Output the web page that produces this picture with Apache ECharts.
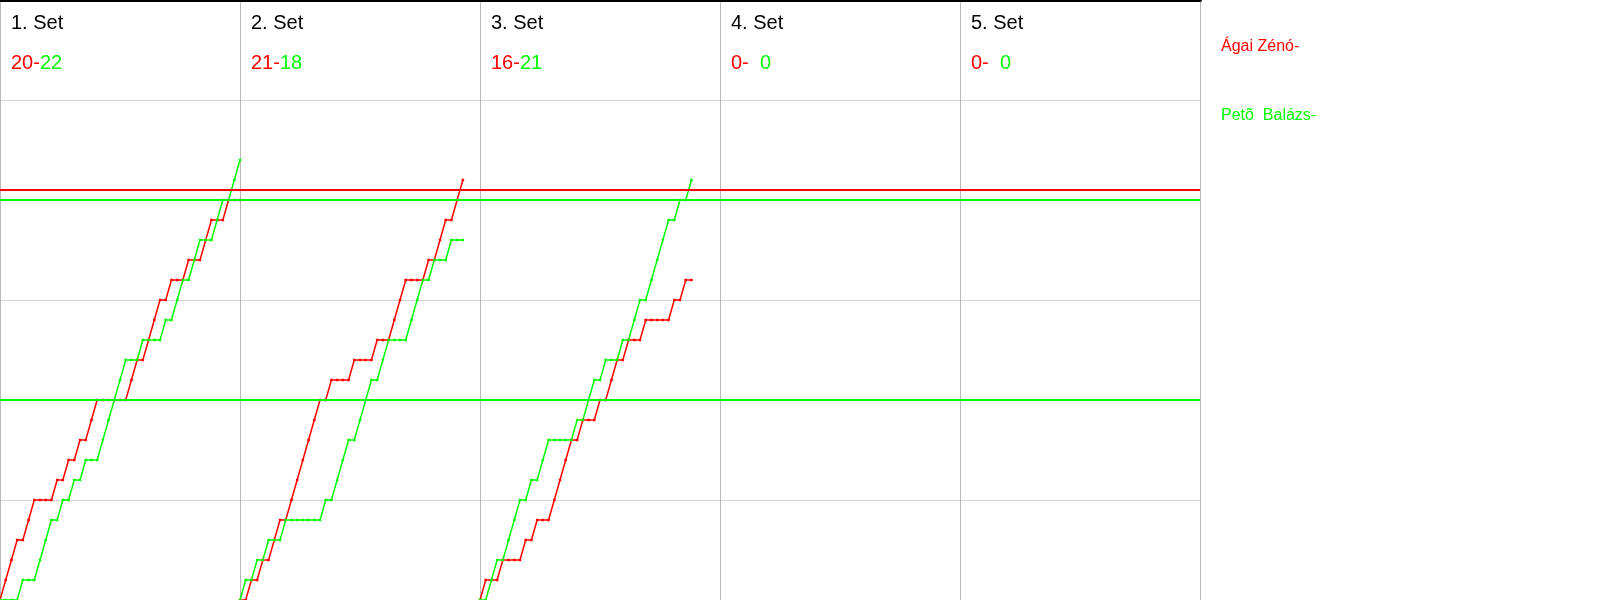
<!DOCTYPE html>
<html><head><meta charset="utf-8">
<script src="https://cdn.jsdelivr.net/npm/echarts@6/dist/echarts.min.js"></script>
<style>html,body{margin:0;padding:0;background:#fff}#c{width:1600px;height:600px}</style>
</head><body><div id="c"></div>
<script>
// ---- data ----
const players = ['Ágai Zénó-', 'Petõ  Balázs-'];
const setTitles = ['1. Set', '2. Set', '3. Set', '4. Set', '5. Set'];
const redSetScores = [20, 21, 16, 0, 0];
const greenSetScores = [22, 18, 21, 0, 0];
const rallySlotsPerSet = 42;
const scoreAxisMax = 30;
const scoreAxisStep = 5;
// cumulative score after each rally (rally 0 .. end)
const redSet1 = [0,1,2,3,3,4,5,5,5,5,6,6,7,7,8,8,9,10,10,10,10,10,10,11,12,12,13,14,15,15,16,16,16,17,17,17,18,19,19,19,20,20,20];
const greenSet1 = [0,0,0,0,1,1,1,2,3,4,4,5,5,6,6,7,7,7,8,9,10,11,12,12,12,13,13,13,13,14,14,15,16,16,17,18,18,18,19,20,20,21,22];
const redSet2 = [0,0,1,1,2,2,3,4,4,5,6,7,8,9,10,10,11,11,11,11,12,12,12,12,13,13,13,14,15,16,16,16,16,17,17,18,19,19,20,21];
const greenSet2 = [0,1,1,2,2,3,3,3,4,4,4,4,4,4,4,5,5,6,7,8,8,9,10,11,11,12,13,13,13,13,14,15,16,16,17,17,17,18,18,18];
const redSet3 = [0,1,1,1,2,2,2,2,3,3,4,4,4,5,6,7,8,8,9,9,9,10,10,11,12,12,13,13,13,14,14,14,14,14,15,15,16,16];
const greenSet3 = [0,0,1,2,2,3,4,5,5,6,6,7,8,8,8,8,8,9,9,10,11,11,12,12,12,13,13,14,15,15,16,17,18,19,19,20,20,21];
const redSets = [redSet1, redSet2, redSet3];
const greenSets = [greenSet1, greenSet2, greenSet3];
const redRefLines = [20.5];
const greenRefLines = [10, 20];

// ---- chart ----
const RED = '#ff0000', GREEN = '#00ff00';
const FONT = '"Liberation Sans", Arial, sans-serif';
const GRID_W = 1200, GRID_H = 600;

function buildSeries(sets) {
  const out = [];
  sets.forEach((arr, s) => {
    if (s > 0) out.push(['-', '-']);
    arr.forEach((v, i) => out.push([s * rallySlotsPerSet + i, v]));
  });
  return out;
}

const graphics = [];
const colW = GRID_W / setTitles.length;
setTitles.forEach((t, s) => {
  const x = s * colW + 11;
  graphics.push({ type: 'text', x: x, y: 23, silent: true,
    style: { text: t, font: '20px ' + FONT, fill: '#000', verticalAlign: 'middle' } });
  const g = greenSetScores[s] < 10 ? '  ' + greenSetScores[s] : String(greenSetScores[s]);
  graphics.push({ type: 'text', x: x, y: 63, silent: true,
    style: { text: '{r|' + redSetScores[s] + '-}{g|' + g + '}', font: '20px ' + FONT, verticalAlign: 'middle',
      rich: { r: { fill: RED, font: '20px ' + FONT }, g: { fill: GREEN, font: '20px ' + FONT } } } });
});

const chart = echarts.init(document.getElementById('c'), null, { renderer: 'canvas' });
const nTicks = scoreAxisMax / scoreAxisStep + 1;
const yLineColors = [];
for (let i = 0; i < nTicks; i++) yLineColors.push(i % 2 === 1 ? '#d2d2d2' : 'rgba(0,0,0,0)');

chart.setOption({
  animation: false,
  backgroundColor: '#fff',
  grid: { left: 0, top: 0, width: GRID_W, height: GRID_H, containLabel: false },
  legend: {
    data: [
      { name: players[0], textStyle: { color: RED } },
      { name: players[1], textStyle: { color: GREEN } }
    ],
    orient: 'vertical', left: 1211, top: 34, itemGap: 53,
    itemWidth: 0, itemHeight: 16, icon: 'none', selectedMode: false,
    textStyle: { fontSize: 16, fontFamily: FONT, padding: 0 }
  },
  xAxis: [{
    type: 'value', min: 0, max: rallySlotsPerSet * setTitles.length, interval: rallySlotsPerSet,
    axisLabel: { show: false }, axisTick: { show: false },
    axisLine: { show: true, lineStyle: { color: '#c8c8c8', width: 1 } },
    splitLine: { show: true, showMinLine: true, showMaxLine: true, lineStyle: { color: '#b8b8b8', width: 1 } }
  }, {
    type: 'value', position: 'top', min: 0, max: rallySlotsPerSet * setTitles.length,
    axisLabel: { show: false }, axisTick: { show: false }, splitLine: { show: false },
    axisLine: { show: true, onZero: false, lineStyle: { color: '#000', width: 4 } }
  }],
  yAxis: {
    type: 'value', min: 0, max: scoreAxisMax, interval: scoreAxisStep,
    axisLabel: { show: false }, axisTick: { show: false }, axisLine: { show: false },
    splitLine: { show: true, lineStyle: { color: yLineColors, width: 1 } }
  },
  graphic: graphics,
  series: [
    {
      name: players[0], type: 'line', data: buildSeries(redSets), connectNulls: false,
      symbol: 'rect', symbolSize: 2.5, showSymbol: true,
      itemStyle: { color: RED }, lineStyle: { color: RED, width: 1.5 },
      markLine: { silent: true, symbol: 'none', label: { show: false },
        lineStyle: { color: RED, width: 2, type: 'solid' },
        data: redRefLines.map(v => ({ yAxis: v })) },
      z: 3
    },
    {
      name: players[1], type: 'line', data: buildSeries(greenSets), connectNulls: false,
      symbol: 'rect', symbolSize: 2.5, showSymbol: true,
      itemStyle: { color: GREEN }, lineStyle: { color: GREEN, width: 1.5 },
      markLine: { silent: true, symbol: 'none', label: { show: false },
        lineStyle: { color: GREEN, width: 2, type: 'solid' },
        data: greenRefLines.map(v => ({ yAxis: v })) },
      z: 3
    }
  ]
});
</script>
</body></html>
